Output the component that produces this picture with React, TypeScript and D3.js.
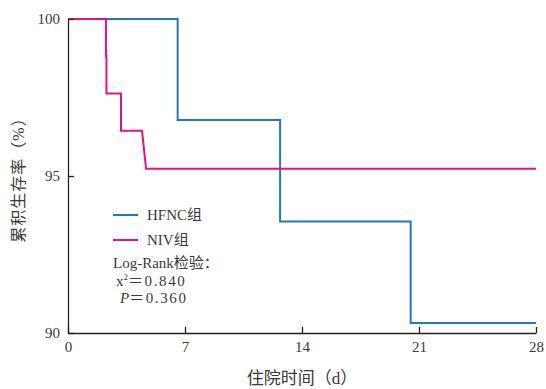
import React, { useRef, useEffect } from 'react';
import * as d3 from 'd3';

// Kaplan-Meier steps (day, survival %)
const hfncDays = [0, 6.56, 12.69, 20.5, 28];
const hfncSurv = [100, 96.78, 93.55, 90.32, 90.32];
const nivDays = [0, 2.27, 2.3, 3.17, 4.43, 4.67, 28];
const nivSurv = [100, 98.82, 97.63, 96.44, 96.44, 95.23, 95.23];
// NIV drop at index 5 is drawn slanted in the original
const nivSlant = [5];
const xTicks = [0, 7, 14, 21, 28];
const yTicks = [90, 95, 100];

const BLUE = '#1f78c1';
const PINK = '#e8127f';
const TEXT = '#3a3a3a';
const SERIF = '"Liberation Serif", "Times New Roman", "Noto Sans CJK SC", serif';

const App = () => {
  const svgRef = useRef<SVGSVGElement>(null);

  useEffect(() => {
    const width = 546;
    const height = 389;
    const margin = { top: 19, right: 10, bottom: 56, left: 68 };

    const svg = d3.select(svgRef.current)
      .attr('width', width)
      .attr('height', height);
    svg.selectAll('*').remove();

    const x = d3.scaleLinear().domain([0, 28]).range([margin.left, width - margin.right]);
    const y = d3.scaleLinear().domain([90, 100]).range([height - margin.bottom, margin.top]);

    // step path: horizontal then vertical, except slanted drops
    const stepLine = (days: number[], surv: number[], slant: number[] = []) => {
      const pts: [number, number][] = [];
      days.forEach((d, i) => {
        if (i > 0 && surv[i - 1] !== surv[i] && !slant.includes(i)) {
          pts.push([d, surv[i - 1]]);
        }
        pts.push([d, surv[i]]);
      });
      return d3.line<[number, number]>().x(p => x(p[0])).y(p => y(p[1]))(pts);
    };

    svg.append('path')
      .attr('d', stepLine(hfncDays, hfncSurv))
      .attr('fill', 'none')
      .attr('stroke', BLUE)
      .attr('stroke-width', 2);

    svg.append('path')
      .attr('d', stepLine(nivDays, nivSurv, nivSlant))
      .attr('fill', 'none')
      .attr('stroke', PINK)
      .attr('stroke-width', 2);

    // axes
    const xAxis = svg.append('g')
      .attr('transform', `translate(0,${height - margin.bottom})`)
      .call(d3.axisBottom(x).tickValues(xTicks).tickSizeInner(-6).tickSizeOuter(0));
    const yAxis = svg.append('g')
      .attr('transform', `translate(${margin.left},0)`)
      .call(d3.axisLeft(y).tickValues(yTicks).tickSizeInner(-6).tickSizeOuter(0));

    [xAxis, yAxis].forEach(g => {
      g.select('.domain').attr('stroke', '#222').attr('stroke-width', 1.3);
      g.selectAll('.tick line').attr('stroke', '#222').attr('stroke-width', 1.3);
      g.selectAll('.tick text')
        .attr('fill', TEXT)
        .style('font-family', SERIF)
        .style('font-size', '15px');
    });
    xAxis.selectAll('.tick text').attr('dy', '0.71em').attr('y', 8);
    yAxis.selectAll('.tick text').attr('x', -8);

    // axis titles
    svg.append('text')
      .attr('x', 302)
      .attr('y', 384)
      .attr('text-anchor', 'middle')
      .attr('fill', TEXT)
      .style('font-family', SERIF)
      .style('font-size', '17px')
      .text('住院时间（d）');

    svg.append('text')
      .attr('transform', 'translate(24,176) rotate(-90)')
      .attr('text-anchor', 'middle')
      .attr('fill', TEXT)
      .style('font-family', SERIF)
      .style('font-size', '16px')
      .style('letter-spacing', '1px')
      .text('累积生存率（%）');

    // legend
    const legend = [
      { name: 'HFNC组', color: BLUE },
      { name: 'NIV组', color: PINK },
    ];
    legend.forEach((d, i) => {
      const ly = 215 + i * 25;
      svg.append('line')
        .attr('x1', 113).attr('x2', 138)
        .attr('y1', ly).attr('y2', ly)
        .attr('stroke', d.color)
        .attr('stroke-width', 2);
      svg.append('text')
        .attr('x', 147)
        .attr('y', ly + 5)
        .attr('fill', TEXT)
        .style('font-family', SERIF)
        .style('font-size', '15px')
        .text(d.name);
    });

    const stats = svg.append('g')
      .attr('fill', TEXT)
      .style('font-family', SERIF)
      .style('font-size', '15px');
    stats.append('text').attr('x', 113).attr('y', 268).text('Log-Rank检验：');
    const chi = stats.append('text').attr('x', 116).attr('y', 286);
    chi.append('tspan').text('x');
    chi.append('tspan').attr('dy', -6).style('font-size', '9px').text('2');
    chi.append('tspan').attr('dy', 6).style('letter-spacing', '1.6px').text('＝0.840');
    const p = stats.append('text').attr('x', 120).attr('y', 303);
    p.append('tspan').style('font-style', 'italic').text('P');
    p.append('tspan').style('letter-spacing', '1.6px').text('＝0.360');
  }, []);

  return <svg ref={svgRef} style={{ position: 'absolute', left: 0, top: 0 }}></svg>;
};

export default App;
